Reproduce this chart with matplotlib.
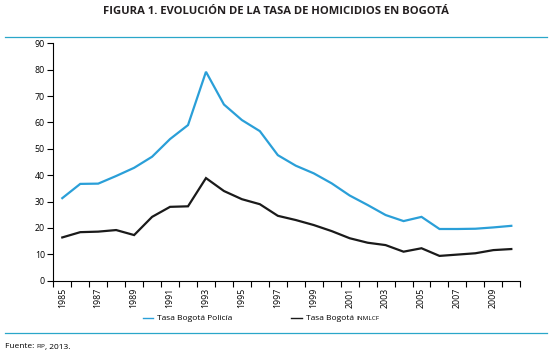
import matplotlib
matplotlib.use("Agg")
import matplotlib.pyplot as plt
from matplotlib.lines import Line2D

plt.rcParams['font.family'] = ['Open Sans', 'DejaVu Sans']

# Homicide rate per 100k, Bogota
years = list(range(1985, 2011))
policia = [31.3, 36.7, 36.8, 39.7, 42.8, 47.0, 53.7, 59.0, 79.2, 66.8,
           60.9, 56.7, 47.6, 43.6, 40.7, 36.9, 32.3, 28.7, 24.9, 22.6,
           24.2, 19.6, 19.6, 19.7, 20.2, 20.8]
inmlcf = [16.4, 18.4, 18.6, 19.2, 17.3, 24.2, 28.0, 28.2, 38.9, 34.0,
          30.9, 29.0, 24.6, 23.0, 21.1, 18.8, 16.1, 14.4, 13.5, 11.0,
          12.3, 9.4, 9.9, 10.4, 11.6, 12.0]
tick_years = years[::2]

blue = "#2a9fd8"
rule = "#2aa7c9"

fig = plt.figure(figsize=(5.52, 3.63), dpi=100)
ax = fig.add_axes([53.3 / 552, 1 - 280.7 / 363, 467 / 552, 237.4 / 363])

xpos = [i + 0.5 for i in range(len(years))]
ax.plot(xpos, policia, color=blue, lw=1.6, solid_joinstyle='miter')
ax.plot(xpos, inmlcf, color="#1a1a1a", lw=1.6, solid_joinstyle='miter')

ax.set_xlim(0, len(years))
ax.set_ylim(0, 90)
ax.set_yticks(range(0, 91, 10))
ax.set_xticks(range(0, len(years) + 1))
ax.set_xticklabels([])
ax.set_xticks([i * 2 + 0.5 for i in range(len(tick_years))], minor=True)
ax.set_xticklabels([str(y) for y in tick_years], minor=True, rotation=90, fontsize=6.3)
ax.tick_params(axis='x', which='minor', length=0, pad=5)
ax.tick_params(axis='x', which='major', length=4, width=0.8, direction='out')
ax.tick_params(axis='y', length=4, width=0.8, labelsize=6.3, pad=2)
for s in ['top', 'right']:
    ax.spines[s].set_visible(False)
for s in ['left', 'bottom']:
    ax.spines[s].set_linewidth(0.8)

# title and rules
fig.text(0.5, 1 - 12 / 363, "FIGURA 1. EVOLUCIÓN DE LA TASA DE HOMICIDIOS EN BOGOTÁ",
         ha='center', va='center', fontsize=8.1, fontweight='bold', color="#231f20")
fig.add_artist(Line2D([5 / 552, 547 / 552], [1 - 37 / 363] * 2, color=rule, lw=0.9))
fig.add_artist(Line2D([5 / 552, 547 / 552], [1 - 333 / 363] * 2, color=rule, lw=0.9))

# legend
ly = 1 - 318 / 363
fig.add_artist(Line2D([143 / 552, 153 / 552], [ly, ly], color=blue, lw=1.0))
fig.text(157 / 552, ly, "Tasa Bogotá Policía", va='center', fontsize=6)
fig.add_artist(Line2D([291 / 552, 302 / 552], [ly, ly], color="#1a1a1a", lw=1.0))
t = fig.text(306 / 552, ly, "Tasa Bogotá ", va='center', fontsize=6)
fig.canvas.draw()
bb = t.get_window_extent()
fig.text(bb.x1 / 552, ly, "INMLCF", va='center', fontsize=4.6)

# source
fy = 1 - 347 / 363
f1 = fig.text(5 / 552, fy, "Fuente: ", va='center', fontsize=6)
fig.canvas.draw()
b1 = f1.get_window_extent()
f2 = fig.text(b1.x1 / 552, fy, "FIP", va='center', fontsize=4.6)
fig.canvas.draw()
b2 = f2.get_window_extent()
fig.text(b2.x1 / 552, fy, ", 2013.", va='center', fontsize=6)

fig.savefig("out.png", dpi=100)
